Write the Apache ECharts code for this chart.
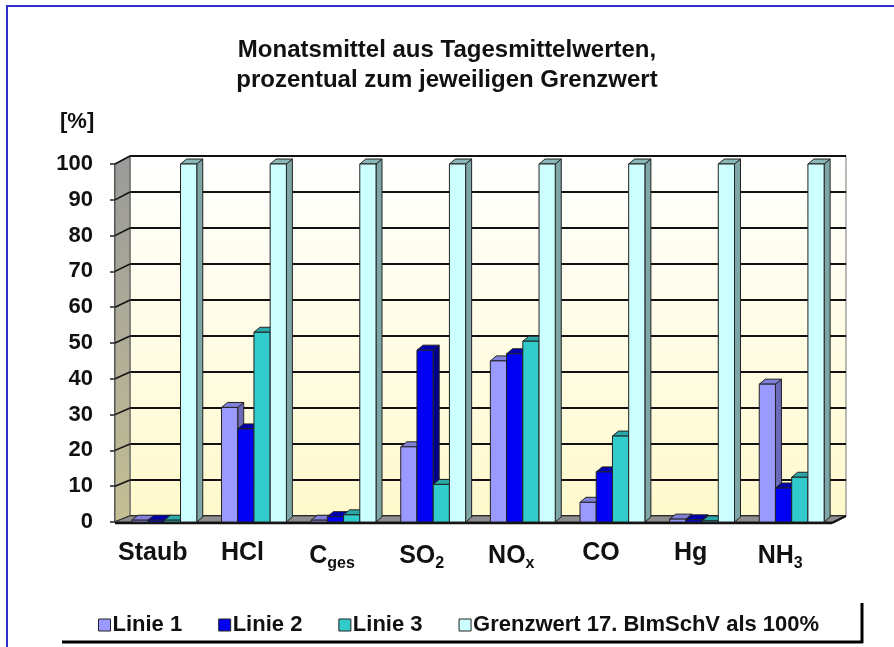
<!DOCTYPE html>
<html>
<head>
<meta charset="utf-8">
<script src="https://cdn.jsdelivr.net/npm/echarts@6/dist/echarts.min.js"></script>
<style>html,body{margin:0;padding:0;background:#fff;}#c{width:894px;height:647px;}</style>
</head>
<body>
<div id="c"></div>
<script>
// ---- data ----
const categories = ['Staub', 'HCl', 'Cges', 'SO2', 'NOx', 'CO', 'Hg', 'NH3'];
const categoryLabels = ['Staub', 'HCl', 'C{sub|ges}', 'SO{sub|2}', 'NO{sub|x}', 'CO', 'Hg', 'NH{sub|3}'];
const seriesNames = ['Linie 1', 'Linie 2', 'Linie 3', 'Grenzwert 17. BImSchV als 100%'];
const linie1 = [0.5, 32, 0.5, 21, 45, 5.5, 0.8, 38.5];
const linie2 = [0.5, 26, 1.5, 48, 47, 14, 0.6, 9.5];
const linie3 = [0.5, 53, 2, 10.5, 50.5, 24, 0.3, 12.5];
const grenzwert = [100, 100, 100, 100, 100, 100, 100, 100];
const yTicks = [0, 10, 20, 30, 40, 50, 60, 70, 80, 90, 100];

// ---- style ----
const FONT = 'Liberation Sans, Arial, sans-serif';
const faceColors = [
  { front: '#9999ff', side: '#6a6ab8', top: '#8080d8' },
  { front: '#0000f2', side: '#00008c', top: '#0000b0' },
  { front: '#33cccc', side: '#1f8a8a', top: '#2aa8a8' },
  { front: '#ccffff', side: '#7fa6a6', top: '#8ab8b8' }
];
const DX = 6, DY = 5;
const BACK = { left: 130, right: 48, top: 156, bottom: 131 };
const FRONT = { left: 115, right: 62, top: 164, bottom: 125 };

function makeRender(si) {
  const c = faceColors[si];
  return function (params, api) {
    const idx = api.value(0), v = api.value(1);
    const top = api.coord([idx, v]);
    const base = api.coord([idx, 0]);
    const band = api.size([1, 0])[0];
    const w = band * 0.181;
    const x0 = top[0] + 4.5 + (si - 2) * w;
    const yt = top[1], yb = base[1];
    const stroke = { stroke: '#222', lineWidth: 1 };
    return {
      type: 'group',
      children: [
        { type: 'polygon', shape: { points: [[x0 + w, yt], [x0 + w + DX, yt - DY], [x0 + w + DX, yb - DY], [x0 + w, yb]] },
          style: Object.assign({ fill: c.side }, stroke) },
        { type: 'polygon', shape: { points: [[x0, yt], [x0 + DX, yt - DY], [x0 + w + DX, yt - DY], [x0 + w, yt]] },
          style: Object.assign({ fill: c.top }, stroke) },
        { type: 'rect', shape: { x: x0, y: yt, width: w, height: yb - yt },
          style: Object.assign({ fill: c.front }, stroke) }
      ]
    };
  };
}

const allValues = [linie1, linie2, linie3, grenzwert];
const series = allValues.map((vals, si) => ({
  name: seriesNames[si],
  type: 'custom',
  xAxisIndex: 1,
  yAxisIndex: 1,
  z: 5,
  itemStyle: { color: faceColors[si].front, borderColor: '#222', borderWidth: 1 },
  renderItem: makeRender(si),
  encode: { x: 0, y: 1 },
  data: vals.map((v, i) => [i, v])
}));

const chart = echarts.init(document.getElementById('c'));
const option = {
  backgroundColor: '#ffffff',
  animation: false,
  title: {
    text: 'Monatsmittel aus Tagesmittelwerten,\nprozentual zum jeweiligen Grenzwert',
    left: 'center',
    top: 30,
    textStyle: { fontFamily: FONT, fontSize: 24, fontWeight: 'bold', color: '#111', lineHeight: 30 }
  },
  legend: {
    left: 93,
    top: 609,
    itemWidth: 12,
    itemHeight: 12,
    itemGap: 36,
    icon: 'rect',
    textStyle: { fontFamily: FONT, fontSize: 22, fontWeight: 'bold', color: '#111', padding: [0, 0, 0, -3] },
    data: seriesNames.map((n, i) => ({ name: n, itemStyle: { color: faceColors[i].front, borderColor: '#222', borderWidth: 1 } }))
  },
  grid: [
    Object.assign({ show: true, borderColor: '#777', borderWidth: 1,
      backgroundColor: { type: 'linear', x: 0, y: 0, x2: 0, y2: 1,
        colorStops: [{ offset: 0, color: '#ffffff' }, { offset: 1, color: '#fff9cc' }] } }, BACK),
    Object.assign({ show: false }, FRONT)
  ],
  xAxis: [
    { type: 'category', gridIndex: 0, data: categories, show: false },
    { type: 'category', gridIndex: 1, data: categories,
      axisLine: { show: false }, axisTick: { show: false },
      axisLabel: {
        interval: 0,
        margin: 19, padding: [0, 14, 0, 0],
        fontFamily: FONT, fontSize: 25, fontWeight: 'bold', color: '#111',
        formatter: (val, i) => categoryLabels[i],
        rich: { sub: { fontFamily: FONT, fontSize: 16, fontWeight: 'bold', color: '#111', padding: [15, 0, 0, 0] } }
      } }
  ],
  yAxis: [
    { type: 'value', gridIndex: 0, min: 0, max: 100, interval: 10,
      axisLine: { show: false }, axisTick: { show: false }, axisLabel: { show: false },
      splitLine: { show: true, lineStyle: { color: '#111', width: 2 } } },
    { type: 'value', gridIndex: 1, min: 0, max: 100, interval: 10,
      axisLine: { show: true, lineStyle: { color: '#222', width: 1.5 } },
      axisTick: { show: true, length: 5, lineStyle: { color: '#222', width: 1.5 } },
      splitLine: { show: false },
      axisLabel: { margin: 22, fontFamily: FONT, fontSize: 22, fontWeight: 'bold', color: '#111' } }
  ],
  series: series
};
chart.setOption(option);

// walls and floor derived from the axes' scales
const gfx = [];
const xL = FRONT.left, xB = BACK.left;
const xRF = 894 - FRONT.right, xRB = 894 - BACK.right;
const yF = v => chart.convertToPixel({ yAxisIndex: 1 }, v);
const yB = v => chart.convertToPixel({ yAxisIndex: 0 }, v);
gfx.push({ type: 'polygon', z: 1, shape: { points: [[xL, yF(100)], [xB, yB(100)], [xB, yB(0)], [xL, yF(0)]] },
  style: { fill: { type: 'linear', x: 0, y: 0, x2: 0, y2: 1,
    colorStops: [{ offset: 0, color: '#9a9a9a' }, { offset: 1, color: '#c4bf94' }] }, stroke: '#555', lineWidth: 1 } });
yTicks.forEach(v => {
  gfx.push({ type: 'line', z: 2, shape: { x1: xL, y1: yF(v), x2: xB, y2: yB(v) }, style: { stroke: '#111', lineWidth: 1.5 } });
});
gfx.push({ type: 'polygon', z: 2, shape: { points: [[xL, yF(0)], [xB, yB(0)], [xRB, yB(0)], [xRF, yF(0)]] },
  style: { fill: '#8e8e8e', stroke: '#444', lineWidth: 1 } });
gfx.push({ type: 'line', z: 3, shape: { x1: xL, y1: yF(0) + 1, x2: xRF, y2: yF(0) + 1 }, style: { stroke: '#111', lineWidth: 2.5 } });
gfx.push({ type: 'line', z: 3, shape: { x1: xRF, y1: yF(0) + 1, x2: xRB, y2: yB(0) }, style: { stroke: '#111', lineWidth: 2 } });
// "[%]" axis unit
gfx.push({ type: 'text', z: 3, left: 60, top: 111, style: { text: '[%]', fontFamily: FONT, fontSize: 22, fontWeight: 'bold', fill: '#111' } });
// legend box shadow
gfx.push({ type: 'line', z: 3, shape: { x1: 62, y1: 642, x2: 863, y2: 642 }, style: { stroke: '#000', lineWidth: 3 } });
gfx.push({ type: 'line', z: 3, shape: { x1: 862, y1: 603, x2: 862, y2: 643 }, style: { stroke: '#000', lineWidth: 3 } });
// outer blue frame
gfx.push({ type: 'rect', z: 0, shape: { x: 7, y: 6, width: 950, height: 700 }, style: { fill: 'none', stroke: '#2f2fc8', lineWidth: 2 } });
chart.setOption({ graphic: gfx });
</script>
</body>
</html>
